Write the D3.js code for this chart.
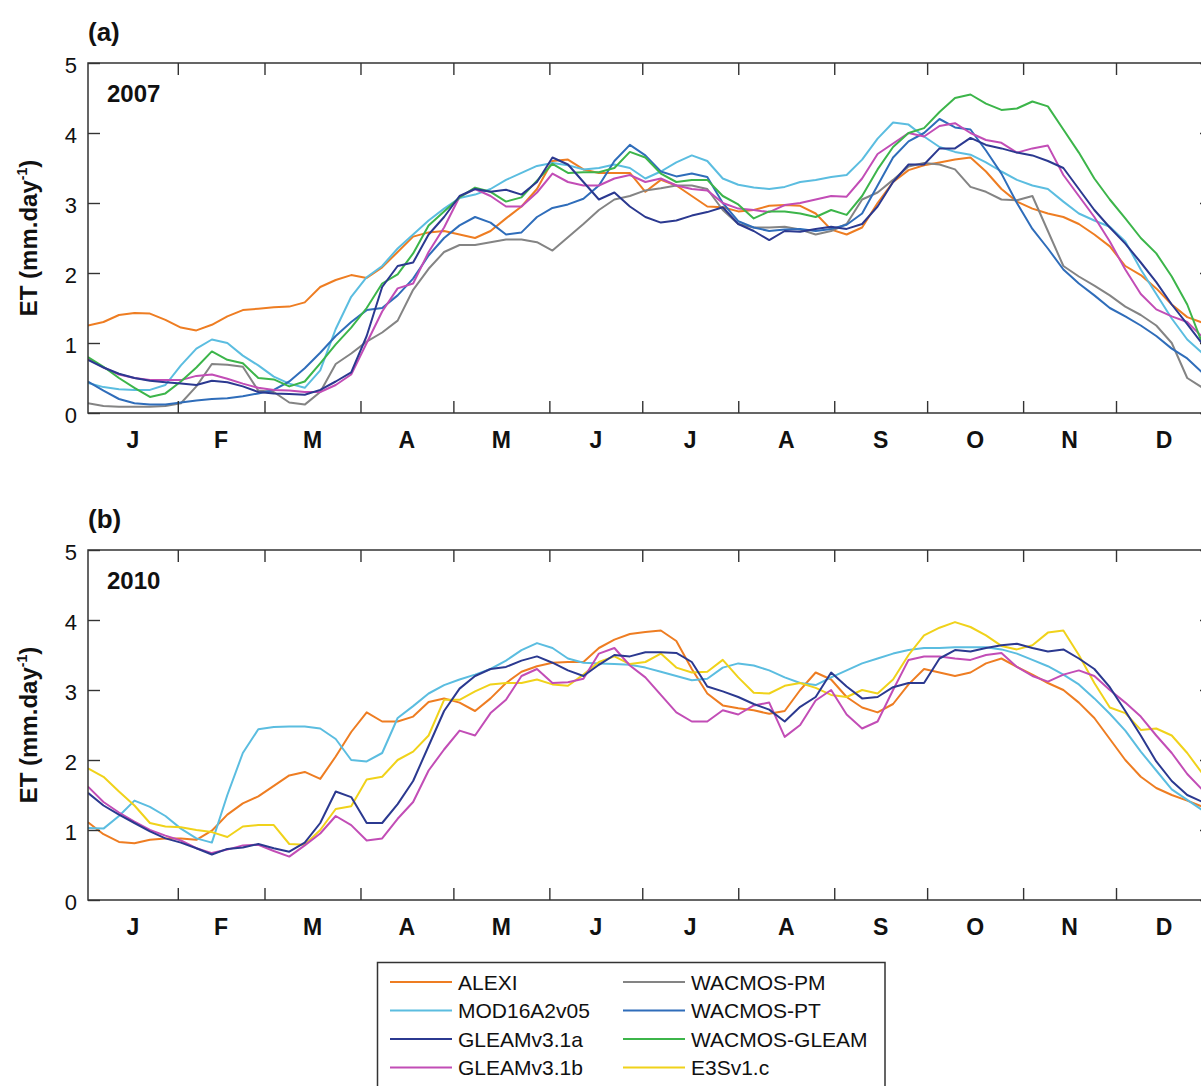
<!DOCTYPE html>
<html>
<head>
<meta charset="utf-8">
<script src="https://cdn.jsdelivr.net/npm/d3@7"></script>
<style>
  body { margin: 0; background: #fff; }
  svg { display: block; }
</style>
</head>
<body>
<svg width="1201" height="1086"></svg>
<script>
// day of year (0 = Jan 1), one reading every 5 days
var days = d3.range(2, 363, 5);
var monthStarts = [31, 59, 90, 120, 151, 181, 212, 243, 273, 304, 334];
var monthLabels = ["J", "F", "M", "A", "M", "J", "J", "A", "S", "O", "N", "D"];
var yTicks = [0, 1, 2, 3, 4, 5];

// 2007 (panel a)
var alexi07 = [1.25,1.3,1.4,1.43,1.42,1.33,1.22,1.18,1.26,1.38,
  1.47,1.49,1.51,1.52,1.58,1.8,1.9,1.97,1.93,2.08,
  2.3,2.52,2.58,2.6,2.55,2.5,2.6,2.78,2.95,3.2,
  3.6,3.62,3.48,3.43,3.43,3.43,3.16,3.33,3.25,3.1,
  2.95,2.94,2.88,2.9,2.96,2.97,2.96,2.85,2.62,2.55,
  2.65,3.0,3.3,3.47,3.54,3.58,3.62,3.65,3.45,3.2,
  3.02,2.92,2.85,2.8,2.7,2.55,2.38,2.1,1.97,1.78,
  1.55,1.37,1.29];
var mod07 = [0.43,0.37,0.34,0.33,0.33,0.4,0.68,0.92,1.05,1.0,
  0.82,0.68,0.52,0.42,0.36,0.61,1.2,1.66,1.94,2.1,
  2.35,2.55,2.75,2.92,3.07,3.12,3.2,3.33,3.43,3.53,
  3.57,3.54,3.48,3.5,3.55,3.5,3.35,3.45,3.58,3.68,
  3.6,3.35,3.26,3.22,3.2,3.23,3.3,3.33,3.37,3.4,
  3.62,3.92,4.15,4.12,3.95,3.8,3.73,3.69,3.58,3.45,
  3.33,3.25,3.2,3.02,2.85,2.75,2.66,2.45,2.05,1.7,
  1.35,1.05,0.85];
var gleamA07 = [0.76,0.65,0.56,0.5,0.46,0.44,0.42,0.4,0.46,0.44,
  0.38,0.3,0.28,0.27,0.26,0.33,0.45,0.58,1.1,1.8,
  2.1,2.15,2.55,2.8,3.1,3.2,3.16,3.19,3.12,3.3,
  3.65,3.55,3.3,3.05,3.15,2.95,2.8,2.72,2.75,2.82,
  2.87,2.94,2.7,2.6,2.47,2.6,2.59,2.63,2.66,2.63,
  2.7,2.95,3.3,3.55,3.55,3.78,3.78,3.93,3.83,3.78,
  3.72,3.68,3.6,3.5,3.2,2.9,2.65,2.42,2.15,1.87,
  1.55,1.27,0.98];
var gleamB07 = [0.78,0.65,0.55,0.5,0.47,0.47,0.47,0.53,0.55,0.49,
  0.42,0.36,0.33,0.32,0.3,0.3,0.4,0.55,1.0,1.45,
  1.78,1.85,2.3,2.65,3.09,3.2,3.1,2.95,2.95,3.15,
  3.42,3.3,3.25,3.25,3.35,3.4,3.3,3.35,3.25,3.2,
  3.18,3.0,2.92,2.9,2.87,2.97,3.0,3.05,3.1,3.09,
  3.35,3.7,3.85,4.0,3.95,4.1,4.14,4.0,3.9,3.86,
  3.72,3.78,3.82,3.4,3.1,2.8,2.45,2.05,1.7,1.48,
  1.38,1.3,1.08];
var pm07 = [0.14,0.1,0.09,0.09,0.09,0.1,0.14,0.38,0.7,0.69,
  0.66,0.32,0.3,0.15,0.12,0.3,0.7,0.85,1.02,1.15,
  1.32,1.76,2.06,2.3,2.4,2.4,2.44,2.48,2.48,2.44,
  2.32,2.51,2.7,2.9,3.05,3.1,3.18,3.21,3.25,3.25,
  3.2,2.9,2.7,2.65,2.65,2.66,2.62,2.55,2.6,2.7,
  3.05,3.15,3.33,3.52,3.57,3.55,3.48,3.23,3.16,3.05,
  3.04,3.1,2.6,2.1,1.95,1.82,1.68,1.52,1.4,1.25,
  1.0,0.5,0.36];
var pt07 = [0.45,0.32,0.2,0.14,0.12,0.12,0.15,0.18,0.2,0.21,
  0.24,0.28,0.33,0.45,0.64,0.86,1.1,1.3,1.47,1.5,
  1.68,1.92,2.25,2.5,2.68,2.8,2.72,2.55,2.58,2.8,
  2.93,2.98,3.06,3.25,3.6,3.83,3.68,3.45,3.38,3.42,
  3.37,3.0,2.74,2.65,2.6,2.62,2.63,2.6,2.63,2.69,
  2.85,3.25,3.65,3.88,4.0,4.2,4.08,4.05,3.75,3.42,
  3.0,2.63,2.35,2.05,1.85,1.68,1.5,1.38,1.25,1.1,
  0.92,0.78,0.57];
var wgleam07 = [0.8,0.66,0.5,0.36,0.23,0.28,0.45,0.65,0.88,0.76,
  0.71,0.5,0.48,0.38,0.45,0.71,0.98,1.22,1.5,1.85,
  1.98,2.28,2.68,2.88,3.08,3.22,3.16,3.02,3.08,3.32,
  3.56,3.43,3.44,3.44,3.5,3.73,3.65,3.42,3.3,3.33,
  3.33,3.1,2.98,2.78,2.88,2.88,2.85,2.8,2.9,2.83,
  3.1,3.48,3.8,4.0,4.07,4.3,4.5,4.55,4.42,4.33,
  4.35,4.45,4.38,4.05,3.72,3.35,3.05,2.78,2.5,2.28,
  1.95,1.55,0.98];

// 2010 (panel b)
var alexi10 = [1.11,0.94,0.83,0.81,0.86,0.88,0.88,0.86,0.99,1.22,
  1.38,1.48,1.63,1.78,1.83,1.73,2.05,2.4,2.68,2.55,
  2.55,2.62,2.83,2.88,2.82,2.7,2.88,3.1,3.26,3.34,
  3.39,3.4,3.4,3.6,3.72,3.8,3.83,3.85,3.7,3.3,
  2.95,2.78,2.74,2.71,2.66,2.7,3.0,3.25,3.15,2.9,
  2.75,2.68,2.8,3.08,3.3,3.25,3.2,3.25,3.38,3.45,
  3.33,3.22,3.1,3.0,2.82,2.6,2.3,2.0,1.76,1.6,
  1.5,1.42,1.33];
var mod10 = [1.03,1.02,1.2,1.42,1.33,1.2,1.02,0.88,0.82,1.5,
  2.1,2.44,2.47,2.48,2.48,2.45,2.3,2.0,1.98,2.1,
  2.6,2.77,2.95,3.07,3.15,3.22,3.3,3.42,3.57,3.67,
  3.6,3.45,3.39,3.38,3.37,3.36,3.32,3.26,3.2,3.14,
  3.16,3.32,3.38,3.35,3.28,3.18,3.1,3.07,3.18,3.28,
  3.38,3.45,3.52,3.57,3.6,3.6,3.61,3.61,3.61,3.58,
  3.52,3.43,3.34,3.22,3.08,2.88,2.66,2.42,2.12,1.85,
  1.58,1.43,1.28];
var gleamA10 = [1.53,1.35,1.22,1.1,0.98,0.88,0.82,0.74,0.65,0.73,
  0.75,0.8,0.74,0.69,0.82,1.1,1.55,1.47,1.1,1.1,
  1.37,1.7,2.2,2.7,3.02,3.2,3.3,3.33,3.42,3.48,
  3.39,3.28,3.2,3.36,3.5,3.48,3.54,3.54,3.53,3.4,
  3.05,2.98,2.9,2.8,2.72,2.55,2.76,2.9,3.25,3.05,
  2.88,2.9,3.04,3.1,3.1,3.45,3.57,3.55,3.6,3.64,
  3.66,3.6,3.55,3.58,3.45,3.3,3.04,2.7,2.35,1.98,
  1.7,1.5,1.4];
var gleamB10 = [1.62,1.4,1.25,1.12,1.0,0.92,0.85,0.74,0.67,0.72,
  0.78,0.79,0.7,0.62,0.78,0.95,1.2,1.07,0.85,0.88,
  1.16,1.4,1.85,2.15,2.42,2.35,2.67,2.86,3.2,3.3,
  3.1,3.11,3.16,3.52,3.6,3.35,3.18,2.93,2.68,2.55,
  2.55,2.71,2.65,2.78,2.82,2.33,2.5,2.85,3.0,2.65,
  2.45,2.55,3.0,3.43,3.48,3.48,3.45,3.43,3.5,3.53,
  3.33,3.2,3.12,3.22,3.28,3.2,3.0,2.82,2.62,2.35,
  2.1,1.8,1.57];
var e3s10 = [1.88,1.76,1.55,1.35,1.1,1.05,1.04,1.0,0.97,0.9,
  1.05,1.07,1.07,0.8,0.79,1.0,1.3,1.34,1.72,1.76,
  2.0,2.12,2.35,2.86,2.86,2.98,3.08,3.1,3.1,3.15,
  3.08,3.06,3.22,3.4,3.48,3.37,3.4,3.52,3.32,3.25,
  3.26,3.43,3.18,2.96,2.95,3.06,3.1,3.03,2.93,2.9,
  3.0,2.95,3.15,3.5,3.78,3.89,3.97,3.9,3.78,3.63,
  3.58,3.64,3.82,3.85,3.5,3.1,2.75,2.67,2.43,2.45,
  2.35,2.1,1.8];

var colors = {
  "ALEXI": "#ee7d22",
  "MOD16A2v05": "#5bbde0",
  "GLEAMv3.1a": "#2b3990",
  "GLEAMv3.1b": "#c24db6",
  "WACMOS-PM": "#848484",
  "WACMOS-PT": "#2f6dba",
  "WACMOS-GLEAM": "#3cb54a",
  "E3Sv1.c": "#f0d21a"
};

var panels = [
  { tag: "(a)", year: "2007", top: 63, series: [
    { name: "ALEXI", values: alexi07 },
    { name: "MOD16A2v05", values: mod07 },
    { name: "WACMOS-PM", values: pm07 },
    { name: "WACMOS-PT", values: pt07 },
    { name: "GLEAMv3.1b", values: gleamB07 },
    { name: "WACMOS-GLEAM", values: wgleam07 },
    { name: "GLEAMv3.1a", values: gleamA07 }
  ]},
  { tag: "(b)", year: "2010", top: 550, series: [
    { name: "ALEXI", values: alexi10 },
    { name: "MOD16A2v05", values: mod10 },
    { name: "E3Sv1.c", values: e3s10 },
    { name: "GLEAMv3.1b", values: gleamB10 },
    { name: "GLEAMv3.1a", values: gleamA10 }
  ]}
];

var legendCols = [
  ["ALEXI", "MOD16A2v05", "GLEAMv3.1a", "GLEAMv3.1b"],
  ["WACMOS-PM", "WACMOS-PT", "WACMOS-GLEAM", "E3Sv1.c"]
];

var svg = d3.select("svg");
var font = "Arial, 'Liberation Sans', Helvetica, sans-serif";
var axisColor = "#333";
var left = 88, right = 1212, plotH = 350;

var x = d3.scaleLinear().domain([2, 365]).range([left, right]);

// month label centres (first month starts where the axis starts)
var monthEdges = [2].concat(monthStarts, [365]);

panels.forEach(function (p, i) {
  var y = d3.scaleLinear().domain([0, 5]).range([p.top + plotH, p.top]);
  var g = svg.append("g");

  g.append("clipPath").attr("id", "clip" + i)
    .append("rect")
    .attr("x", left).attr("y", p.top)
    .attr("width", right - left).attr("height", plotH);

  var line = d3.line()
    .x(function (d, j) { return x(days[j]); })
    .y(function (d) { return y(d); });

  g.append("g").attr("clip-path", "url(#clip" + i + ")")
    .selectAll("path")
    .data(p.series)
    .join("path")
    .attr("d", function (d) { return line(d.values); })
    .attr("fill", "none")
    .attr("stroke", function (d) { return colors[d.name]; })
    .attr("stroke-width", 2)
    .attr("stroke-linejoin", "round");

  // axes: inward ticks on all four sides
  var bottom = g.append("g")
    .attr("transform", "translate(0," + (p.top + plotH) + ")")
    .call(d3.axisBottom(x).tickValues(monthStarts).tickSizeInner(-12).tickSizeOuter(0).tickFormat(""));
  var top = g.append("g")
    .attr("transform", "translate(0," + p.top + ")")
    .call(d3.axisTop(x).tickValues(monthStarts).tickSizeInner(-12).tickSizeOuter(0).tickFormat(""));
  var yl = g.append("g")
    .attr("transform", "translate(" + left + ",0)")
    .call(d3.axisLeft(y).tickValues(yTicks).tickSizeInner(-12).tickSizeOuter(0).tickPadding(11).tickFormat(d3.format("d")));
  var yr = g.append("g")
    .attr("transform", "translate(" + right + ",0)")
    .call(d3.axisRight(y).tickValues(yTicks).tickSizeInner(-12).tickSizeOuter(0).tickFormat(""));

  [bottom, top, yl, yr].forEach(function (a) {
    a.select(".domain").remove();
    a.selectAll(".tick line").attr("stroke", axisColor).attr("stroke-width", 1.4);
  });
  yl.selectAll(".tick text")
    .attr("font-family", font).attr("font-size", 22)
    .attr("fill", "#111").attr("dy", "0.45em");

  g.append("rect")
    .attr("x", left).attr("y", p.top)
    .attr("width", right - left).attr("height", plotH)
    .attr("fill", "none").attr("stroke", axisColor).attr("stroke-width", 1.5);

  g.selectAll(".month")
    .data(monthLabels)
    .join("text")
    .attr("class", "month")
    .attr("x", function (d, j) { return x((monthEdges[j] + monthEdges[j + 1]) / 2); })
    .attr("y", p.top + plotH + 35)
    .attr("text-anchor", "middle")
    .attr("font-family", font).attr("font-size", 23).attr("font-weight", "bold")
    .attr("fill", "#111")
    .text(function (d) { return d; });

  g.append("text")
    .attr("x", left).attr("y", p.top - 22)
    .attr("font-family", font).attr("font-size", 26).attr("font-weight", "bold")
    .attr("fill", "#111")
    .text(p.tag);

  g.append("text")
    .attr("x", 107).attr("y", p.top + 39)
    .attr("font-family", font).attr("font-size", 24).attr("font-weight", "bold")
    .attr("fill", "#111")
    .text(p.year);

  var yt = g.append("text")
    .attr("transform", "translate(37," + (p.top + 175) + ") rotate(-90)")
    .attr("text-anchor", "middle")
    .attr("font-family", font).attr("font-size", 24).attr("font-weight", "bold")
    .attr("fill", "#111");
  yt.append("tspan").text("ET (mm.day");
  yt.append("tspan").attr("font-size", 14).attr("dy", -10).text("-1");
  yt.append("tspan").attr("dy", 10).text(")");
});

// legend
var lg = svg.append("g");
lg.append("rect")
  .attr("x", 377.5).attr("y", 962.5)
  .attr("width", 507.5).attr("height", 140)
  .attr("fill", "#fff").attr("stroke", axisColor).attr("stroke-width", 1.5);

var colX = [390, 623];
legendCols.forEach(function (col, c) {
  var rows = lg.selectAll(".col" + c)
    .data(col)
    .join("g")
    .attr("class", "col" + c)
    .attr("transform", function (d, r) { return "translate(" + colX[c] + "," + (982 + r * 28.5) + ")"; });
  rows.append("line")
    .attr("x1", 0).attr("x2", 62)
    .attr("stroke", function (d) { return colors[d]; })
    .attr("stroke-width", 2);
  rows.append("text")
    .attr("x", 68).attr("dy", "0.36em")
    .attr("font-family", font).attr("font-size", 21)
    .attr("fill", "#111")
    .text(function (d) { return d; });
});
</script>
</body>
</html>
